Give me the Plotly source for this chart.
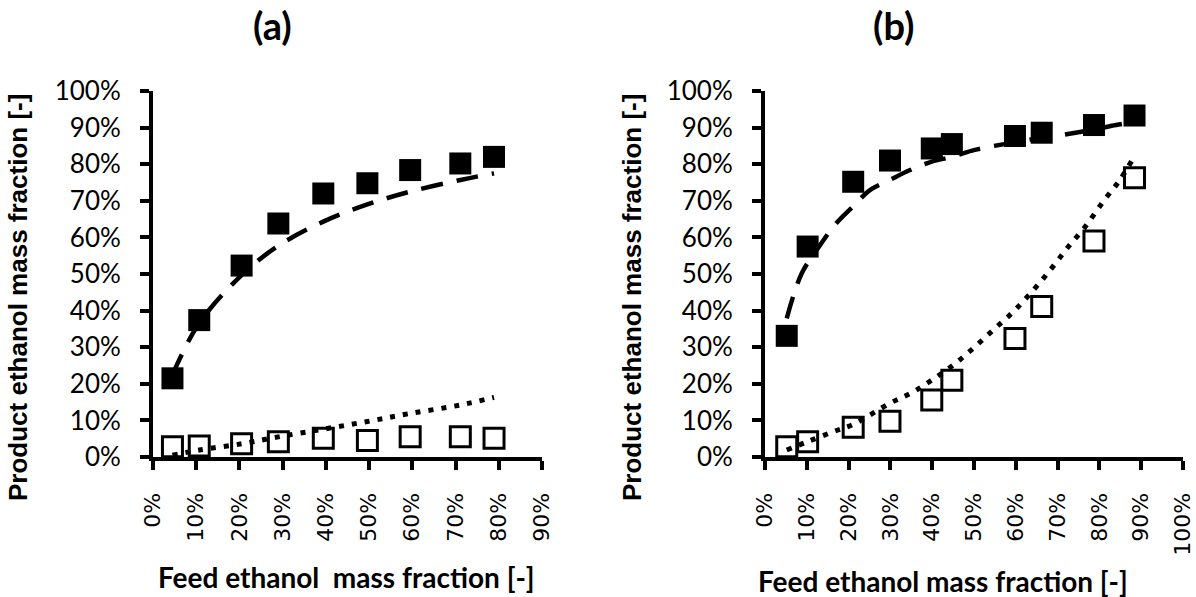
import plotly.graph_objects as go

# ---------------- data: panel (a) ----------------
a_feed = [0.045, 0.107, 0.205, 0.290, 0.394, 0.496, 0.595, 0.711, 0.789]
a_exp_filled = [0.215, 0.374, 0.523, 0.638, 0.720, 0.748, 0.784, 0.802, 0.820]
a_exp_open = [0.028, 0.030, 0.036, 0.042, 0.051, 0.045, 0.055, 0.055, 0.051]
a_model_dash_x = [0.045, 0.107, 0.205, 0.290, 0.394, 0.496, 0.595, 0.711, 0.789]
a_model_dash_y = [0.225, 0.366, 0.497, 0.577, 0.643, 0.690, 0.725, 0.757, 0.775]
a_model_dot_x = [0.045, 0.107, 0.205, 0.290, 0.394, 0.496, 0.595, 0.711, 0.789]
a_model_dot_y = [0.005, 0.019, 0.036, 0.055, 0.076, 0.097, 0.119, 0.142, 0.163]

# ---------------- data: panel (b) ----------------
b_feed = [0.052, 0.102, 0.211, 0.299, 0.399, 0.447, 0.598, 0.662, 0.787, 0.884]
b_exp_filled = [0.331, 0.575, 0.752, 0.810, 0.843, 0.855, 0.877, 0.886, 0.907, 0.933]
b_exp_open = [0.028, 0.042, 0.081, 0.098, 0.156, 0.210, 0.324, 0.411, 0.590, 0.763]
b_model_dash_x = [0.052, 0.088, 0.132, 0.167, 0.211, 0.251, 0.299, 0.347, 0.399,
                  0.447, 0.502, 0.598, 0.662, 0.710, 0.787, 0.840, 0.884]
b_model_dash_y = [0.379, 0.502, 0.579, 0.634, 0.685, 0.729, 0.757, 0.784, 0.807,
                  0.820, 0.839, 0.860, 0.872, 0.880, 0.895, 0.907, 0.915]
b_model_dot_x = [0.052, 0.102, 0.163, 0.211, 0.299, 0.355, 0.399, 0.450, 0.498,
                 0.546, 0.594, 0.642, 0.686, 0.726, 0.766, 0.809, 0.849, 0.881]
b_model_dot_y = [0.019, 0.042, 0.069, 0.089, 0.147, 0.178, 0.210, 0.251, 0.297,
                 0.347, 0.397, 0.456, 0.516, 0.575, 0.629, 0.698, 0.757, 0.816]

y_ticks = [i / 10 for i in range(11)]
a_x_ticks = [i / 10 for i in range(10)]
b_x_ticks = [i / 10 for i in range(11)]

panel_titles = ["(a)", "(b)"]
x_titles = ["Feed ethanol  mass fraction [-]", "Feed ethanol mass fraction [-]"]
y_title = "Product ethanol mass fraction [-]"

W, H = 1196, 597
fig = go.Figure()

DASH = "22px,14px"
DOT = "5px,8px"


def add_panel(xa, ya, feed, filled, opened, dx, dy, ox, oy):
    fig.add_trace(go.Scatter(x=dx, y=dy, mode="lines", xaxis=xa, yaxis=ya,
                             line=dict(color="black", width=4.5, dash=DASH, shape="spline"),
                             hoverinfo="skip", showlegend=False))
    fig.add_trace(go.Scatter(x=ox, y=oy, mode="lines", xaxis=xa, yaxis=ya,
                             line=dict(color="black", width=5, dash=DOT, shape="spline"),
                             hoverinfo="skip", showlegend=False))
    fig.add_trace(go.Scatter(x=feed, y=filled, mode="markers", xaxis=xa, yaxis=ya,
                             marker=dict(symbol="square", size=22, color="black",
                                         line=dict(width=0)),
                             showlegend=False))
    fig.add_trace(go.Scatter(x=feed, y=opened, mode="markers", xaxis=xa, yaxis=ya,
                             marker=dict(symbol="square-open", size=20, color="black",
                                         line=dict(width=3, color="black")),
                             showlegend=False))


add_panel("x", "y", a_feed, a_exp_filled, a_exp_open,
          a_model_dash_x, a_model_dash_y, a_model_dot_x, a_model_dot_y)
add_panel("x2", "y2", b_feed, b_exp_filled, b_exp_open,
          b_model_dash_x, b_model_dash_y, b_model_dot_x, b_model_dot_y)

ydom = [(H - 457) / H, (H - 91) / H]
common_axis = dict(showline=True, linecolor="black", linewidth=4, ticks="outside",
                   ticklen=9, tickwidth=4, tickcolor="black", showgrid=False,
                   zeroline=False, tickformat=".0%", automargin=False)
yfont = dict(family="Lato", size=26, color="black")
xfont = dict(family="DejaVu Sans", size=22, color="black")

fig.update_layout(
    width=W, height=H, margin=dict(l=0, r=0, t=0, b=0, autoexpand=False),
    paper_bgcolor="white", plot_bgcolor="white", showlegend=False,
    xaxis=dict(domain=[153 / W, 542 / W], range=[0, 0.9], tickvals=a_x_ticks,
               anchor="y", tickangle=-90, ticklabelstandoff=14, tickfont=xfont,
               **common_axis),
    yaxis=dict(domain=ydom, range=[0, 1], tickvals=y_ticks, anchor="x",
               ticklabelstandoff=14, tickfont=yfont, **common_axis),
    xaxis2=dict(domain=[765 / W, 1183 / W], range=[0, 1.0], tickvals=b_x_ticks,
                anchor="y2", tickangle=-90, ticklabelstandoff=14, tickfont=xfont,
                **common_axis),
    yaxis2=dict(domain=ydom, range=[0, 1], tickvals=y_ticks, anchor="x2",
                ticklabelstandoff=14, tickfont=yfont, **common_axis),
)

ann = []
for cx, t in zip([272, 893], panel_titles):
    ann.append(dict(x=cx / W, y=1 - 25 / H, xref="paper", yref="paper", text=t,
                    showarrow=False, xanchor="center", yanchor="middle",
                    font=dict(family="Lato", size=38, color="black", weight="bold")))
for cx, cy, t in zip([347, 943], [577, 581], x_titles):
    ann.append(dict(x=cx / W, y=1 - cy / H, xref="paper", yref="paper", text=t,
                    showarrow=False, xanchor="center", yanchor="middle",
                    font=dict(family="Lato", size=28, color="black", weight="bold")))
for cx in [18, 632]:
    ann.append(dict(x=cx / W, y=1 - 298 / H, xref="paper", yref="paper", text=y_title,
                    showarrow=False, xanchor="center", yanchor="middle", textangle=-90,
                    font=dict(family="Liberation Sans", size=26, color="black", weight="bold")))
fig.update_layout(annotations=ann)

fig.write_html("out.html")
